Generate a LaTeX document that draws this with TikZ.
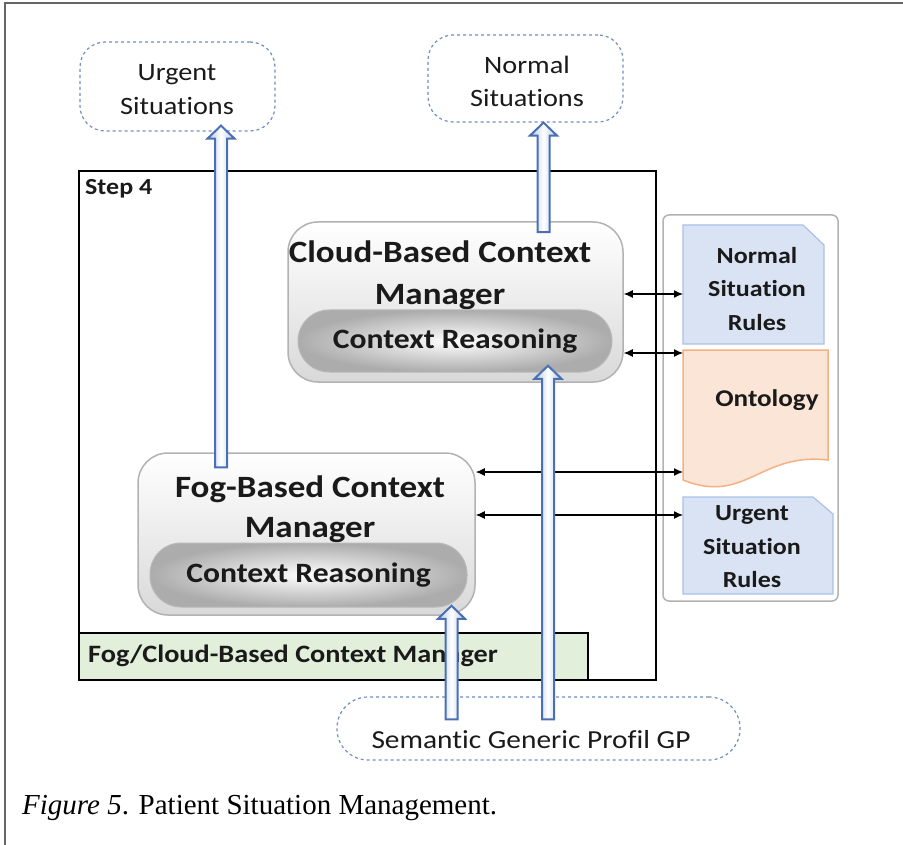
\documentclass[tikz,border=0pt]{standalone}
\usepackage{fontspec}
\setmainfont[FakeStretch=1.13, Ligatures=NoCommon]{Carlito}
\newfontfamily\capfont{Liberation Serif}
\usetikzlibrary{calc,arrows.meta}
\definecolor{dashblue}{HTML}{6F8FC0}
\definecolor{arrblue}{HTML}{4A6FB5}
\definecolor{lblue}{HTML}{B4C7E7}
\definecolor{docblue}{HTML}{DAE3F3}
\definecolor{docedge}{HTML}{A9C1E6}
\definecolor{ontofill}{HTML}{FBE5D6}
\definecolor{ontoedge}{HTML}{F4B183}
\definecolor{greenfill}{HTML}{E2EFDA}
\definecolor{txt}{HTML}{1A1A1A}
\tikzset{
  dashbox/.style={draw=dashblue, dashed, line width=1.2pt, rounded corners=25pt, text=txt, align=center, inner sep=0pt},
  mgr/.style={draw=gray!60, line width=1.5pt, rounded corners=30pt, top color=white, bottom color=gray!30, inner sep=0pt},
  reason/.style={draw=gray!55, line width=1pt, rounded corners=31pt, inner color=white, outer color=gray!65, inner sep=0pt, text=txt},
  barrow/.style={draw=arrblue, line width=2pt, left color=lblue, right color=lblue, middle color=white, line join=miter},
  dbl/.style={{Latex[length=9pt,width=8pt]}-{Latex[length=9pt,width=8pt]}, line width=1.2pt, black},
  doc/.style={draw=docedge, line width=1.2pt, fill=docblue},
}
\newcommand\blockup[2]{%
  \draw[barrow] let \p1=(#1), \p2=(#2) in
   (\x1-6pt,\y1) -- (\x1-6pt,\y2-13pt) -- (\x1-13.5pt,\y2-13pt) -- (\x1,\y2)
   -- (\x1+13.5pt,\y2-13pt) -- (\x1+6pt,\y2-13pt) -- (\x1+6pt,\y1) -- cycle;}
\begin{document}
\begin{tikzpicture}[x=1pt,y=-1pt]
\useasboundingbox (0,0) rectangle (903,845);
% outer frame
\draw[gray!80!black, line width=2pt] (903,3) -- (5,3) -- (5,845);

% top dashed boxes
\node[dashbox, minimum width=195pt, minimum height=89pt] (urg) at (177.5,86.5) {};
\node[inner sep=0pt, align=center, text=txt, font=\fontsize{25}{34}\selectfont] (urglbl) at (177,90) {Urgent\\ Situations};
\node[dashbox, minimum width=195pt, minimum height=87pt] (nrm) at (525.5,78.5) {};
\node[inner sep=0pt, align=center, text=txt, font=\fontsize{25}{33}\selectfont] (nrmlbl) at (527,81.5) {Normal\\ Situations};

% step 4 box
\node[draw=black, line width=2pt, minimum width=577pt, minimum height=509pt, inner sep=0pt] (step4) at (367.5,425.5) {};
\node[anchor=west, inner sep=0pt, text=txt, font=\fontsize{23}{26}\selectfont\bfseries] (steplbl) at (85,189) {Step 4};
\node[draw=black, line width=2pt, fill=greenfill, minimum width=509pt, minimum height=47pt, inner sep=0pt] (green) at (333.5,656.5) {};
\node[anchor=west, inner sep=0pt, text=txt, font=\fontsize{25}{28}\selectfont\bfseries] (greenlbl) at (88,656) {Fog/Cloud-Based Context Manager};

% cloud manager
\node[mgr, minimum width=335pt, minimum height=160pt] (cloud) at (455.5,302) {};
\node[align=center, inner sep=0pt, text=txt, font=\fontsize{31}{42}\selectfont\bfseries] (cloudlbl) at (440,275) {Cloud-Based Context\\ Manager};
\node[reason, minimum width=314pt, minimum height=62pt, font=\fontsize{28}{30}\selectfont\bfseries] (cloudr) at (455,341) {Context Reasoning};

% fog manager
\node[mgr, minimum width=337pt, minimum height=162pt] (fog) at (306.5,534) {};
\node[align=center, inner sep=0pt, text=txt, font=\fontsize{31}{40}\selectfont\bfseries] (foglbl) at (310,509) {Fog-Based Context\\ Manager};
\node[reason, minimum width=317pt, minimum height=64pt, font=\fontsize{28}{30}\selectfont\bfseries] (fogr) at (308.5,575) {Context Reasoning};

% right panel
\node[draw=gray!60, line width=1.5pt, rounded corners=6pt, minimum width=175pt, minimum height=386pt, inner sep=0pt] (panel) at (750.5,408) {};
\draw[doc] (683,225) -- (803,225) -- (824,245) -- (824,344) -- (683,344) -- cycle;
\node[inner sep=0pt, align=center, text=txt, font=\fontsize{23}{33.5}\selectfont\bfseries] (nrules) at (757,289) {Normal\\ Situation\\ Rules};
\draw[draw=ontoedge, line width=1.5pt, fill=ontofill] (683,350) -- (828,350) -- (828,460) .. controls (760,452) and (745,505) .. (683,480) -- cycle;
\node[inner sep=0pt, text=txt, font=\fontsize{24}{28}\selectfont\bfseries] (onto) at (767,400) {Ontology};
\draw[doc] (683,497) -- (813,497) -- (833,514) -- (833,594) -- (683,594) -- cycle;
\node[inner sep=0pt, align=center, text=txt, font=\fontsize{23}{33.5}\selectfont\bfseries] (urules) at (752,547) {Urgent\\ Situation\\ Rules};
\coordinate (ndoc) at (683,294);
\coordinate (odoc1) at (683,353);
\coordinate (odoc2) at (683,472);
\coordinate (udoc) at (683,515);

% double arrows
\draw[dbl] (cloud.east |- ndoc) -- (ndoc);
\draw[dbl] (cloud.east |- odoc1) -- (odoc1);
\draw[dbl] (fog.east |- odoc2) -- (odoc2);
\draw[dbl] (fog.east |- udoc) -- (udoc);

% semantic box
\node[dashbox, rounded corners=31pt, minimum width=403pt, minimum height=63pt] (sem) at (538.5,728.5) {};
\node[inner sep=0pt, text=txt, font=\fontsize{26}{28}\selectfont] (semlbl) at (531,740) {Semantic Generic Profil GP};

% block arrows
\coordinate (ux) at (221,0);
\coordinate (nx) at (543.5,0);
\coordinate (fx) at (451.5,0);
\coordinate (cx) at (548,0);
\blockup{$(fog.north -| ux)+(0,15)$}{$(urg.south -| ux)+(0,-6)$}
\blockup{$(cloud.north -| nx)+(0,11)$}{$(nrm.south -| nx)$}
\blockup{$(sem.north -| fx)+(0,23)$}{$(fog.south -| fx)+(0,-10)$}
\blockup{$(sem.north -| cx)+(0,23)$}{$(cloud.south -| cx)+(0,-17)$}

% caption
\node[anchor=west, inner sep=0pt, font=\capfont\fontsize{29}{32}\selectfont] (cap) at (22,808) {\textit{Figure 5}. Patient Situation Management.};
\end{tikzpicture}
\end{document}
